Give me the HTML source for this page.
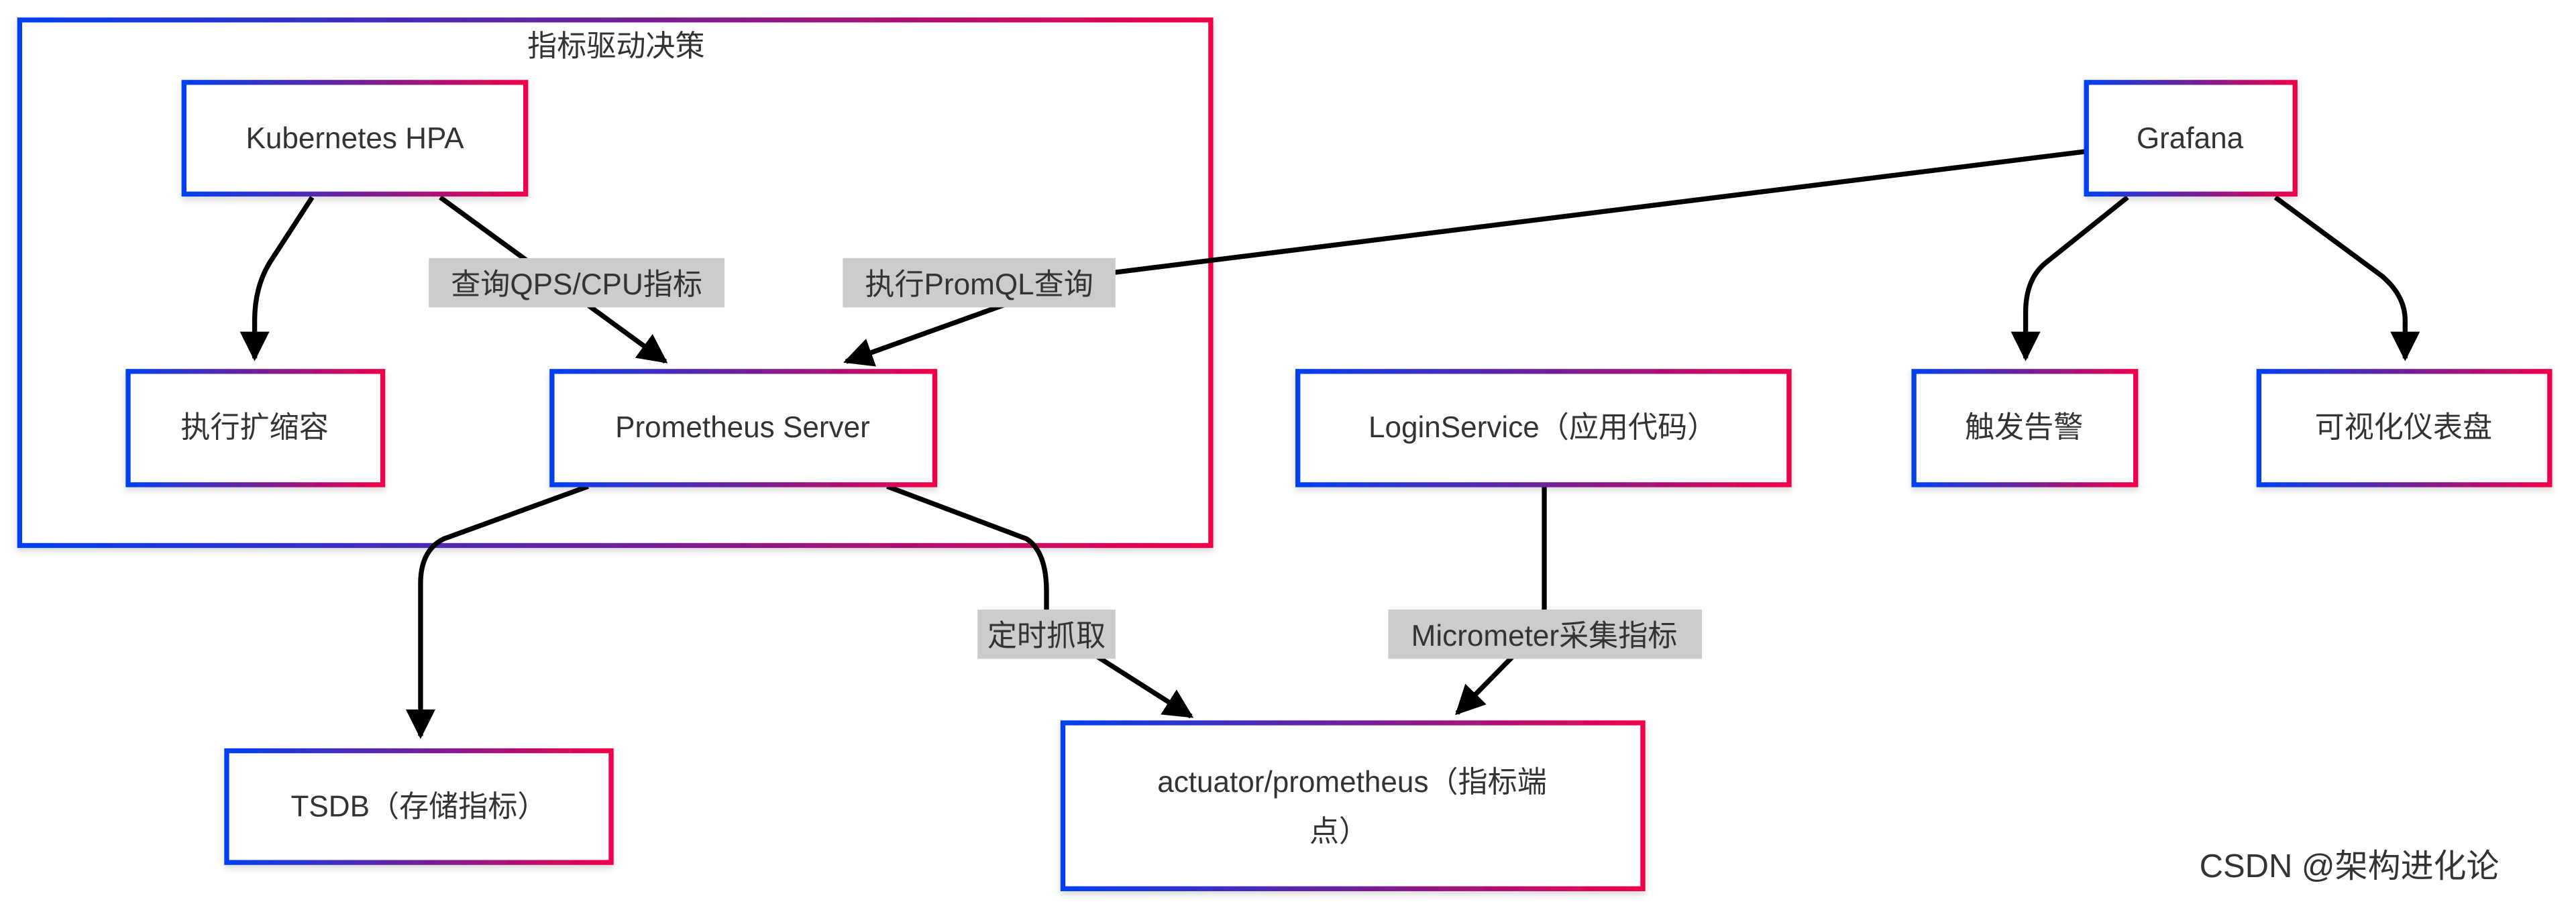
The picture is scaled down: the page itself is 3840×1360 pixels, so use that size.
<!DOCTYPE html>
<html><head><meta charset="utf-8"><style>
html,body{margin:0;padding:0;background:#fff;}
svg{display:block;}
text{font-family:"Liberation Sans","Noto Sans CJK SC",sans-serif;fill:#333;}
</style></head><body>
<svg width="3840" height="1360" viewBox="0 0 1568 555" xmlns="http://www.w3.org/2000/svg">
<defs>
<linearGradient id="g" x1="0" y1="0" x2="1" y2="0">
<stop offset="0" stop-color="#0040f0"/><stop offset="0.5" stop-color="#70209a"/><stop offset="1" stop-color="#f0004a"/>
</linearGradient>
<filter id="sh" x="-10%" y="-10%" width="120%" height="130%"><feDropShadow dx="0" dy="2" stdDeviation="2" flood-color="#000" flood-opacity="0.15"/></filter>
<marker id="a" viewBox="0 0 10 10" refX="9" refY="5" markerWidth="6" markerHeight="6" orient="auto"><path d="M0,0L10,5L0,10z" fill="#000"/></marker>
</defs>
<rect x="12" y="12" width="725" height="320" fill="#fff" stroke="url(#g)" stroke-width="3" filter="url(#sh)"/>
<text x="375" y="34" font-size="18" text-anchor="middle" fill="#000">指标驱动决策</text>

<g fill="none" stroke="#000" stroke-width="3">
<path d="M190,120 L164,160 Q155,175 155,195 L155,218" marker-end="url(#a)"/>
<path d="M268,120 L405,220" marker-end="url(#a)"/>
<path d="M1270,92 L660,168 L515,220" marker-end="url(#a)"/>
<path d="M1295,120 L1245,160 Q1233,170 1233,190 L1233,218" marker-end="url(#a)"/>
<path d="M1385,120 L1450,168 Q1464,180 1464,195 L1464,218" marker-end="url(#a)"/>
<path d="M358,296 L270,328 Q256,335 256,355 L256,448" marker-end="url(#a)"/>
<path d="M540,296 L625,328 Q637,336 637,360 L637,380 L725,436" marker-end="url(#a)"/>
<path d="M940,296 L940,380 L887,434" marker-end="url(#a)"/>
</g>

<g fill="#ccc">
<rect x="261" y="157" width="180" height="30"/>
<rect x="513" y="157" width="166" height="30"/>
<rect x="595" y="371" width="84" height="30"/>
<rect x="845" y="371" width="191" height="30"/>
</g>
<g font-size="18" text-anchor="middle">
<text x="351" y="179">查询QPS/CPU指标</text>
<text x="596" y="179">执行PromQL查询</text>
<text x="637" y="393">定时抓取</text>
<text x="940" y="393">Micrometer采集指标</text>
</g>

<g fill="#fff" stroke="url(#g)" stroke-width="3" filter="url(#sh)">
<rect x="112" y="50" width="208" height="68"/>
<rect x="78" y="226" width="155" height="69"/>
<rect x="336" y="226" width="233" height="69"/>
<rect x="1270" y="50" width="127" height="68"/>
<rect x="790" y="226" width="299" height="69"/>
<rect x="1165" y="226" width="135" height="69"/>
<rect x="1375" y="226" width="177" height="69"/>
<rect x="138" y="457" width="234" height="68"/>
<rect x="647" y="440" width="353" height="101"/>
</g>
<g font-size="18" text-anchor="middle">
<text x="216" y="90">Kubernetes HPA</text>
<text x="155" y="266">执行扩缩容</text>
<text x="452" y="266">Prometheus Server</text>
<text x="1333" y="90">Grafana</text>
<text x="939" y="266">LoginService（应用代码）</text>
<text x="1232" y="266">触发告警</text>
<text x="1463" y="266">可视化仪表盘</text>
<text x="255" y="497">TSDB（存储指标）</text>
<text x="823" y="482">actuator/prometheus（指标端</text>
<text x="815" y="512">点）</text>
</g>
<text x="1430" y="534" font-size="20" text-anchor="middle" fill="#c8c8c8">CSDN @架构进化论</text>
</svg>
</body></html>
